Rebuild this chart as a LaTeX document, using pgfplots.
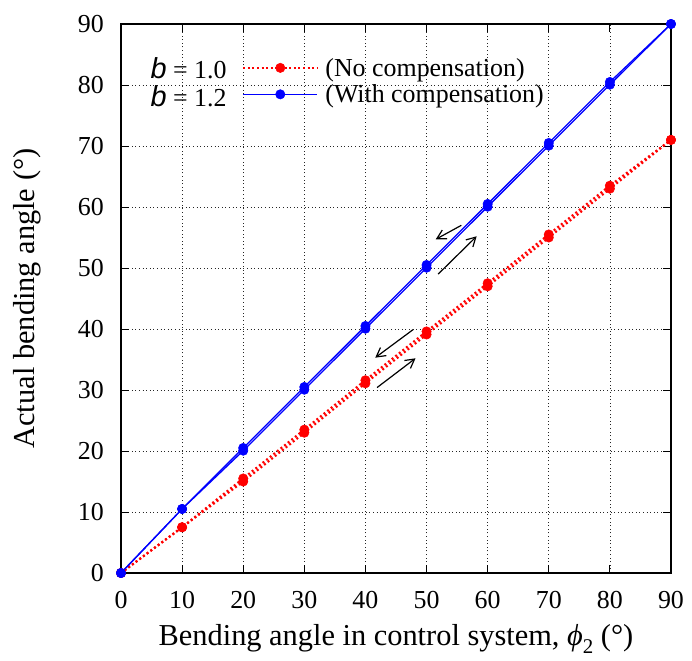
\documentclass[border=0pt]{standalone}
\usepackage{fontspec}
\setmainfont{Liberation Serif}
\newfontfamily\hv{Liberation Sans}
\usepackage{pgfplots}
\pgfplotsset{compat=1.18}
\usetikzlibrary{arrows.meta}
\begin{document}
\begin{tikzpicture}
\useasboundingbox (-121bp,-88bp) rectangle (571bp,573bp);
\begin{axis}[
  at={(0,0)}, anchor=south west,
  scale only axis, width=550bp, height=549bp,
  xmin=0, xmax=90, ymin=0, ymax=90,
  xtick={0,10,...,90}, ytick={0,10,...,90},
  grid=major,
  major grid style={black!85, line width=0.7bp, dash pattern=on 1bp off 2.6bp},
  axis line style={line width=1.3bp},
  major tick length=8bp,
  tick style={black, line width=1bp},
  /pgf/number format/assume math mode=true,
  tick label style={font=\fontsize{26}{30}\selectfont, inner sep=0pt},
  xticklabel style={anchor=north, yshift=-18.5bp},
  yticklabel style={anchor=east, xshift=-17bp},
  xlabel={Bending angle in control system, {\itshape ϕ}\raisebox{-0.28em}{\fontsize{21}{22}\selectfont 2} (°)},
  ylabel={Actual bending angle (°)},
  label style={font=\fontsize{30.5}{34}\selectfont},
  xlabel style={at={(axis description cs:0.5,0)}, anchor=base, yshift=-72bp},
  ylabel style={at={(axis description cs:-0.171,0.5)}, anchor=center},
  clip=false,
  legend style={at={(axis description cs:0.22,0.94)}, anchor=north west,
    draw=none, fill=none, inner sep=0pt, row sep=5bp, column sep=6bp,
    font=\fontsize{26}{30}\selectfont,
    nodes={inner sep=1bp}},
  legend cell align=left,
  legend image code/.code={\draw[mark repeat=2,mark phase=2,#1] plot coordinates {(0bp,0bp) (37bp,0bp) (74bp,0bp)};},
]
% red, no compensation (loading / unloading)
\addplot[red, line width=2.2bp, dash pattern=on 2bp off 2.6bp, mark=*, mark size=4.7bp, mark options={solid, line width=0.5bp, fill=red, draw=red}]
  coordinates {(0,0)(10,7.5)(20,15.0)(30,23.0)(40,31.1)(50,39.1)(60,47.0)(70,55.0)(80,63.0)(90,71.0)};
\addlegendentry{(No compensation)}
\addplot[red, line width=2.2bp, dash pattern=on 2bp off 2.6bp, mark=*, mark size=4.7bp, mark options={solid, line width=0.5bp, fill=red, draw=red}, forget plot]
  coordinates {(0,0)(10,7.5)(20,15.5)(30,23.5)(40,31.6)(50,39.6)(60,47.5)(70,55.5)(80,63.5)(90,71.0)};
% blue, with compensation (loading / unloading)
\addplot[blue, line width=1.3bp, mark=*, mark size=4.7bp, mark options={solid, line width=0.5bp, fill=blue, draw=blue}]
  coordinates {(0,0)(10,10.5)(20,20.05)(30,30.05)(40,40.05)(50,50.05)(60,60.05)(70,70.05)(80,80.05)(90,90.0)};
\addlegendentry{(With compensation)}
\addplot[blue, line width=1.3bp, mark=*, mark size=4.7bp, mark options={solid, line width=0.5bp, fill=blue, draw=blue}, forget plot]
  coordinates {(0,0)(10,10.5)(20,20.5)(30,30.5)(40,40.5)(50,50.5)(60,60.5)(70,70.5)(80,80.5)(90,90.0)};
% arrows
\draw[line width=1.2bp, -{Straight Barb[length=9bp,width=10bp]}] (axis cs:55.7,57.0) -- (axis cs:51.5,54.7);
\draw[line width=1.2bp, -{Straight Barb[length=9bp,width=10bp]}] (axis cs:51.9,49.0) -- (axis cs:58.2,55.2);
\draw[line width=1.2bp, -{Straight Barb[length=9bp,width=10bp]}] (axis cs:47.8,39.9) -- (axis cs:41.6,35.3);
\draw[line width=1.2bp, -{Straight Barb[length=9bp,width=10bp]}] (axis cs:41.9,30.4) -- (axis cs:48.2,35.2);
% b labels
\node[anchor=east, font=\fontsize{26}{30}\selectfont, inner sep=0pt] at (axis cs:17.3,82.7) {{\hv\itshape\fontsize{29}{30}\selectfont b} = 1.0};
\node[anchor=east, font=\fontsize{26}{30}\selectfont, inner sep=0pt] at (axis cs:17.3,78.1) {{\hv\itshape\fontsize{29}{30}\selectfont b} = 1.2};
\end{axis}
\end{tikzpicture}
\end{document}
